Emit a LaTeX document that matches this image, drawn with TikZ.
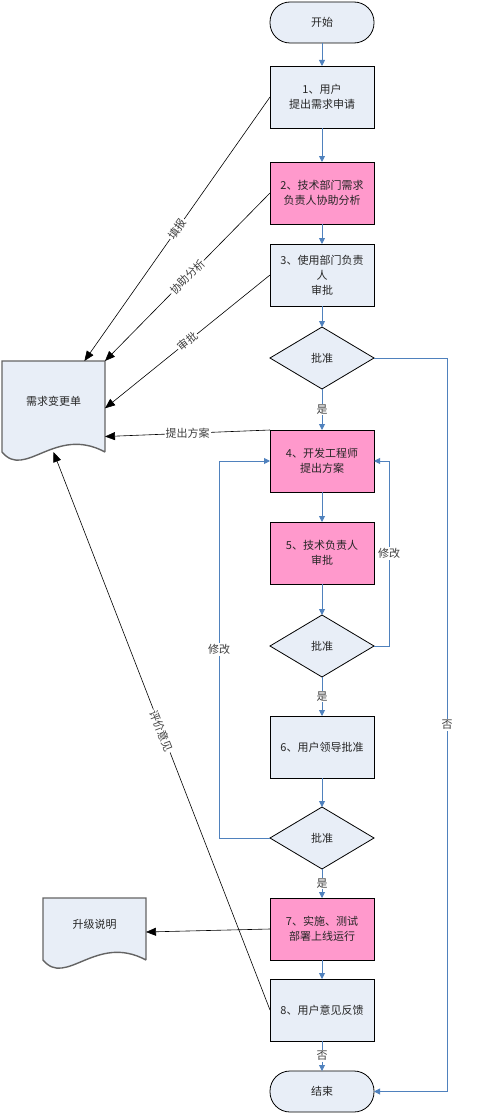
\documentclass[tikz,border=0pt]{standalone}
\usepackage{fontspec}
\newfontfamily\cjkfont{Noto Sans CJK SC}
\usetikzlibrary{positioning,calc,shapes.geometric,arrows.meta}
\definecolor{myfill}{RGB}{232,238,247}
\definecolor{mypink}{RGB}{255,153,204}
\definecolor{myline}{RGB}{79,129,189}
\definecolor{mygrey}{RGB}{100,100,100}
\pgfdeclarelayer{background}
\pgfsetlayers{background,main}
\newcommand\docnode[4]{
  \node[docb,minimum height=#3] (#1) at (#2) {#4};
  \begin{pgfonlayer}{background}
  \draw[docline] (#1.south east) -- (#1.north east) -- (#1.north west) -- (#1.south west)
    .. controls ($(#1.south west)+(23,-28)$) and ($(#1.south west)+(53,27)$) .. (#1.south east);
  \end{pgfonlayer}
}

\begin{document}
\begin{tikzpicture}[x=1pt,y=1pt,outer sep=0pt,
    font=\cjkfont\fontsize{11}{15}\selectfont,
    boxb/.style={
      draw=black,
      fill=myfill,
      line width=0.8pt,
      minimum width=104pt,
      minimum height=62pt,
      text width=100pt,
      inner sep=0pt,
      align=center,
      text=black!85},
    pinkb/.style={boxb,fill=mypink},
    termb/.style={boxb,minimum height=41pt,rounded corners=20pt},
    choiceb/.style={diamond,draw=black,fill=myfill,line width=0.8pt,
      minimum width=104pt,minimum height=62pt,aspect=1.68,inner sep=0pt,text=black!85},
    docb/.style={minimum width=103pt,inner sep=0pt,text depth=11pt,text=black!85},
    docline/.style={draw=mygrey,fill=myfill,line width=1.4pt},
    flow/.style={draw=myline,line width=0.9pt,-{Triangle[width=6pt,length=6pt]}},
    link/.style={draw=black,line width=0.6pt,-{Triangle[width=8pt,length=10pt]}},
    tag/.style={fill=white,inner sep=1pt,text=black!75},
    ]
    \useasboundingbox (0,0) rectangle (479,-1116);
    \node[termb] (start) at (322,-22.5) {开始};
    \node[boxb,below=23pt of start] (s1) {1、用户\\提出需求申请};
    \node[pinkb,below=34pt of s1] (s2) {2、技术部门需求\\负责人协助分析};
    \node[boxb,below=20pt of s2] (s3) {3、使用部门负责\\人\\审批};
    \node[choiceb,below=21pt of s3] (ok1) {批准};
    \node[pinkb,below=41pt of ok1] (s4) {4、开发工程师\\提出方案};
    \node[pinkb,below=30pt of s4] (s5) {5、技术负责人\\审批};
    \node[choiceb,below=31pt of s5] (ok2) {批准};
    \node[boxb,below=39pt of ok2] (s6) {6、用户领导批准};
    \node[choiceb,below=29pt of s6] (ok3) {批准};
    \node[pinkb,below=29pt of ok3] (s7) {7、实施、测试\\部署上线运行};
    \node[boxb,below=19pt of s7] (s8) {8、用户意见反馈};
    \node[termb,below=30pt of s8] (end) {结束};
    \docnode{req}{53.5,-406.5}{91pt}{需求变更单}
    \docnode{upg}{94.5,-929}{62pt}{升级说明}
    % main flow
    \foreach \a/\b in {start/s1,s1/s2,s2/s3,s3/ok1,s4/s5,s5/ok2,s6/ok3,s7/s8}
      \draw[flow] (\a) -- (\b);
    \draw[flow] (ok1) -- node[tag]{是} (s4);
    \draw[flow] (ok2) -- node[tag]{是} (s6);
    \draw[flow] (ok3) -- node[tag]{是} (s7);
    \draw[flow] (s8) -- node[tag]{否} (end);
    \draw[flow] (ok1.east) -- ++(73,0) |- node[tag,pos=0.25]{否} (end.east);
    \draw[flow] (ok2.east) -- ++(15,0) |- node[tag,pos=0.25]{修改} (s4.east);
    \draw[flow] (ok3.west) -- ++(-51,0) |- node[tag,pos=0.25]{修改} (s4.west);
    % documents
    \draw[link] (s1.west) -- node[tag,sloped]{填报} ($(req.north)!0.6!(req.north east)$);
    \draw[link] (s2.west) -- node[tag,sloped]{协助分析} (req.north east);
    \draw[link] (s3.west) -- node[tag,sloped]{审批} ($(req.north east)!0.52!(req.south east)$);
    \draw[link] (s4.north west) -- node[tag]{提出方案} ($(req.north east)!0.83!(req.south east)$);
    \draw[link] (s8.west) -- node[tag,sloped]{评价意见} (req.south);
    \draw[link] (s7.west) -- ($(upg.east)+(0,-3)$);
\end{tikzpicture}
\end{document}
